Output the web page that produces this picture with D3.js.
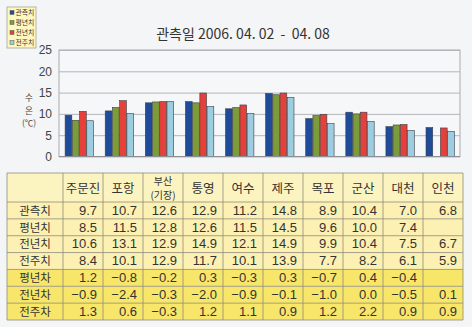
<!DOCTYPE html>
<html><head><meta charset="utf-8">
<script src="https://cdn.jsdelivr.net/npm/d3@7"></script>
<style>
body{margin:0;background:#f3f5f7;}
svg{display:block;}
text{font-family:"Noto Sans CJK KR","Noto Sans",sans-serif;}
</style></head><body>
<svg id="c" width="472" height="327"></svg>
<script>
const stations = ["주문진","포항","부산(기장)","통영","여수","제주","목포","군산","대천","인천"];
const seriesNames = ["관측치","평년치","전년치","전주치"];
const observed = [9.7,10.7,12.6,12.9,11.2,14.8,8.9,10.4,7.0,6.8];
const normalYear = [8.5,11.5,12.8,12.6,11.5,14.5,9.6,10.0,7.4,null];
const lastYear = [10.6,13.1,12.9,14.9,12.1,14.9,9.9,10.4,7.5,6.7];
const lastWeek = [8.4,10.1,12.9,11.7,10.1,13.9,7.7,8.2,6.1,5.9];
const diffNames = ["평년차","전년차","전주차"];
const diffNormal = [1.2,-0.8,-0.2,0.3,-0.3,0.3,-0.7,0.4,-0.4,null];
const diffLastYear = [-0.9,-2.4,-0.3,-2.0,-0.9,-0.1,-1.0,0.0,-0.5,0.1];
const diffLastWeek = [1.3,0.6,-0.3,1.2,1.1,0.9,1.2,2.2,0.9,0.9];
const yTicks = [0,5,10,15,20,25];
const titleText = "관측일 2006. 04. 02  -  04. 08";
const yLabelLines = ["수","온","(℃)"];

const colors = ["#1f4b9b","#7c9b3a","#e5403a","#9ccde0"];
const series = [observed, normalYear, lastYear, lastWeek];
const svg = d3.select("#c");

// chart
const x0 = d3.scaleBand().domain(stations).range([59,460]).paddingInner(0.28).paddingOuter(0.14);
const x1 = d3.scaleBand().domain(seriesNames).range([0, x0.bandwidth()]);
const y = d3.scaleLinear().domain([0,25]).range([156.5,50]);

svg.append("rect").attr("x",59).attr("y",50).attr("width",401).attr("height",106.5)
  .attr("fill","#f6f7f9").attr("stroke","#a9abae").attr("stroke-width",1);

const yAxis = svg.append("g").attr("transform","translate(59,0)")
  .call(d3.axisLeft(y).tickValues(yTicks).tickSize(-401).tickPadding(7));
yAxis.select(".domain").remove();
yAxis.selectAll(".tick line").attr("stroke","#b4b6b9");
yAxis.selectAll(".tick text").attr("fill","#444").attr("font-size","12px")
  .style("font-family","'Liberation Sans',Arial,sans-serif");

yLabelLines.forEach((t,i) => {
  svg.append("text").attr("x",29).attr("y",101 + i*12.6).attr("text-anchor","middle")
    .attr("font-size", i === 2 ? "8.5px" : "8.6px").attr("fill","#444").text(t);
});

const groups = svg.append("g").selectAll("g").data(stations).join("g")
  .attr("transform", d => `translate(${x0(d)},0)`);
groups.selectAll("rect")
  .data((d,i) => seriesNames.map((s,k) => ({s, v: series[k][i], k})).filter(e => e.v != null))
  .join("rect")
  .attr("x", e => x1(e.s)+0.5).attr("width", x1.bandwidth()-0.5)
  .attr("y", e => y(e.v)).attr("height", e => y(0)-y(e.v))
  .attr("fill", e => colors[e.k]).attr("stroke","#3a3f48").attr("stroke-width",0.6);

svg.append("line").attr("x1",59).attr("x2",460).attr("y1",y(0)).attr("y2",y(0)).attr("stroke","#8d9094");

svg.append("text").attr("x",243).attr("y",39).attr("text-anchor","middle")
  .attr("font-size","14px").attr("fill","#333").attr("xml:space","preserve")
  .style("white-space","pre").text(titleText);

// legend
const lg = svg.append("g");
lg.append("rect").attr("x",7).attr("y",7).attr("width",29).attr("height",41)
  .attr("fill","#fdf8c0").attr("stroke","#a7a590").attr("stroke-width",0.8);
seriesNames.forEach((s,k) => {
  lg.append("rect").attr("x",10).attr("y",10.5+k*10).attr("width",4).attr("height",4)
    .attr("fill",colors[k]).attr("stroke","#555").attr("stroke-width",0.5);
  lg.append("text").attr("x",15.5).attr("y",15.2+k*10).attr("font-size","6.8px").attr("fill","#333").text(s);
});

// table
const tx = d3.scaleBand().domain(stations).range([63,463]);
const rowNames = seriesNames.concat(diffNames);
const rowData = series.concat([diffNormal, diffLastYear, diffLastWeek]);
const ty = d3.scaleBand().domain(rowNames).range([202,320]);
const fmt = d3.format(".1f");
const tbl = svg.append("g");
tbl.append("rect").attr("x",7).attr("y",173).attr("width",456).attr("height",29).attr("fill","#fcf4c0");
rowNames.forEach((r,i) => {
  tbl.append("rect").attr("x",7).attr("y",ty(r)).attr("width",456).attr("height",ty.bandwidth())
    .attr("fill", i < 4 ? "#fcf1b2" : "#f7e66a");
});
const lineColor = "#8f8c7c";
[173].concat(rowNames.map(r => ty(r))).concat([320]).forEach(yy => {
  tbl.append("line").attr("x1",7).attr("x2",463).attr("y1",yy).attr("y2",yy).attr("stroke",lineColor).attr("stroke-width",0.8);
});
[7].concat(stations.map(s => tx(s))).concat([463]).forEach(xx => {
  tbl.append("line").attr("x1",xx).attr("x2",xx).attr("y1",173).attr("y2",320).attr("stroke",lineColor).attr("stroke-width",0.8);
});
stations.forEach(s => {
  const cx = tx(s) + tx.bandwidth()/2;
  const m = s.match(/^(.*)(\(.*\))$/);
  if (m) {
    tbl.append("text").attr("x",cx).attr("y",184.5).attr("text-anchor","middle").attr("font-size","10px").attr("fill","#333").text(m[1]);
    tbl.append("text").attr("x",cx).attr("y",199).attr("text-anchor","middle").attr("font-size","10px").attr("fill","#333").text(m[2]);
  } else {
    tbl.append("text").attr("x",cx).attr("y",192.5).attr("text-anchor","middle").attr("font-size","12.5px").attr("fill","#333").text(s);
  }
});
rowNames.forEach((r,i) => {
  const yy = ty(r) + ty.bandwidth()/2 + 4.3;
  tbl.append("text").attr("x",35).attr("y",yy).attr("text-anchor","middle").attr("font-size","11.5px").attr("fill","#333").text(r);
  rowData[i].forEach((v,j) => {
    if (v == null) return;
    tbl.append("text").attr("x", tx(stations[j]) + tx.bandwidth() - 6).attr("y", yy)
      .attr("text-anchor","end").attr("font-size","13px").attr("fill","#333")
      .style("font-family","'Liberation Sans',Arial,sans-serif").text(fmt(v));
  });
});
</script></body></html>
